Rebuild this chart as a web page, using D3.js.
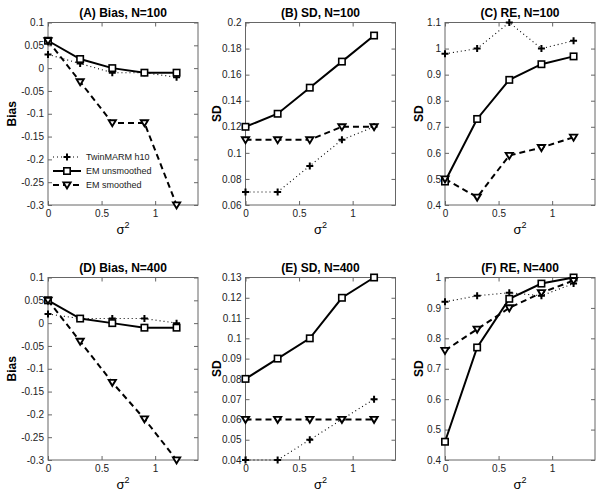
<!DOCTYPE html>
<html><head><meta charset="utf-8">
<script src="https://cdn.jsdelivr.net/npm/d3@7"></script>
<style>body{margin:0;background:#fff}svg{display:block}text{font-family:"Liberation Sans",Arial,sans-serif}</style>
</head><body><svg id="c" width="603" height="495"></svg>
<script>
const sigma2 = [0, 0.3, 0.6, 0.9, 1.2];
const xTicks = [0, 0.5, 1];
const seriesNames = ["TwinMARM h10", "EM unsmoothed", "EM smoothed"];
const titles = ["(A) Bias, N=100","(B) SD, N=100","(C) RE, N=100","(D) Bias, N=400","(E) SD, N=400","(F) RE, N=400"];
const yLabels = ["Bias","SD","SD","Bias","SD","SD"];
// values per panel: [Twin, EM unsmoothed, EM smoothed]
const biasN100 = [[0.03,0.01,-0.01,-0.01,-0.02],[0.06,0.02,0,-0.01,-0.01],[0.06,-0.03,-0.12,-0.12,-0.30]];
const sdN100   = [[0.07,0.07,0.09,0.11,0.12],[0.12,0.13,0.15,0.17,0.19],[0.11,0.11,0.11,0.12,0.12]];
const reN100   = [[0.98,1.0,1.1,1.0,1.03],[0.49,0.73,0.88,0.94,0.97],[0.50,0.43,0.59,0.62,0.66]];
const biasN400 = [[0.02,0.01,0.01,0.01,0.0],[0.05,0.01,0.0,-0.01,-0.01],[0.05,-0.04,-0.13,-0.21,-0.30]];
const sdN400   = [[0.04,0.04,0.05,0.06,0.07],[0.08,0.09,0.10,0.12,0.13],[0.06,0.06,0.06,0.06,0.06]];
const reN400   = [[0.92,0.94,0.95,0.94,0.98],[0.46,0.77,0.93,0.98,1.0],[0.76,0.83,0.90,0.95,0.99]];
const yDomains = [[-0.3,0.1],[0.06,0.2],[0.4,1.1],[-0.3,0.1],[0.04,0.13],[0.4,1.0]];
const yTicks = [
  [-0.3,-0.25,-0.2,-0.15,-0.1,-0.05,0,0.05,0.1],
  [0.06,0.08,0.1,0.12,0.14,0.16,0.18,0.2],
  [0.4,0.5,0.6,0.7,0.8,0.9,1,1.1],
  [-0.3,-0.25,-0.2,-0.15,-0.1,-0.05,0,0.05,0.1],
  [0.04,0.05,0.06,0.07,0.08,0.09,0.1,0.11,0.12,0.13],
  [0.4,0.5,0.6,0.7,0.8,0.9,1]
];
const panelData = [biasN100, sdN100, reN100, biasN400, sdN400, reN400];

const svg = d3.select("#c");
const lefts = [48, 245.5, 445], tops = [22.5, 277.5];
const ylabOffset = [36, 29, 26.5];
const W = 150, H = 182.5;
const fmt = d => String(+d.toFixed(3));
const styles = [
  {w:1.1, dash:"1,3", marker:"plus"},
  {w:2, dash:null, marker:"square"},
  {w:2, dash:"6,4", marker:"tri"}
];
function drawMarker(g, type, x, y) {
  if (type === "plus") {
    g.append("path").attr("d", `M${x-3.5},${y}H${x+3.5}M${x},${y-3.5}V${y+3.5}`)
      .attr("stroke","#000").attr("stroke-width",2).attr("fill","none");
  } else if (type === "square") {
    g.append("rect").attr("x",x-3.2).attr("y",y-3.2).attr("width",6.4).attr("height",6.4)
      .attr("fill","#fff").attr("stroke","#000").attr("stroke-width",1.6);
  } else {
    g.append("path").attr("d", `M${x-3.6},${y-2.6}L${x+3.6},${y-2.6}L${x},${y+3.4}Z`)
      .attr("fill","#fff").attr("stroke","#000").attr("stroke-width",1.9).attr("stroke-linejoin","miter");
  }
}
panelData.forEach((data, i) => {
  const col = i % 3, row = Math.floor(i / 3);
  const L = lefts[col], T = tops[row];
  const x = d3.scaleLinear().domain([0,1.4]).range([L, L+W]);
  const y = d3.scaleLinear().domain(yDomains[i]).range([T+H, T]);
  const g = svg.append("g");
  g.append("rect").attr("x",L).attr("y",T).attr("width",W).attr("height",H)
    .attr("fill","#fff").attr("stroke","#666").attr("stroke-width",1);
  const ya = g.append("g").attr("transform",`translate(${L},0)`)
    .call(d3.axisLeft(y).tickValues(yTicks[i]).tickFormat(fmt).tickSizeInner(-4).tickSizeOuter(0).tickPadding(4));
  const yr = g.append("g").attr("transform",`translate(${L+W},0)`)
    .call(d3.axisRight(y).tickValues(yTicks[i]).tickFormat("").tickSizeInner(-4).tickSizeOuter(0));
  const xa = g.append("g").attr("transform",`translate(0,${T+H})`)
    .call(d3.axisBottom(x).tickValues(xTicks).tickFormat(fmt).tickSizeInner(-4).tickSizeOuter(0).tickPadding(3));
  const xt = g.append("g").attr("transform",`translate(0,${T})`)
    .call(d3.axisTop(x).tickValues(xTicks).tickFormat("").tickSizeInner(-4).tickSizeOuter(0));
  [ya,yr,xa,xt].forEach(a => { a.select(".domain").remove(); a.selectAll("line").attr("stroke","#666");
    a.selectAll("text").attr("fill","#222").style("font-size","10px").style("font-family",'"Liberation Sans",Arial,sans-serif'); });
  xa.selectAll("text").attr("dy","0.9em");
  data.forEach((vals, s) => {
    const st = styles[s];
    const line = d3.line().x((d,k)=>x(sigma2[k])).y(d=>y(d));
    g.append("path").datum(vals).attr("d", line).attr("fill","none").attr("stroke","#000")
      .attr("stroke-width", st.w).attr("stroke-dasharray", st.dash);
  });
  data.forEach((vals, s) => {
    vals.forEach((v,k) => drawMarker(g, styles[s].marker, x(sigma2[k]), y(v)));
  });
  g.append("text").attr("x", L+W/2).attr("y", T-6).attr("text-anchor","middle")
    .style("font-weight","bold").style("font-size","12px").attr("fill","#000").text(titles[i]);
  const ylx = L - ylabOffset[col], yly = T + H/2;
  g.append("text").attr("transform",`translate(${ylx},${yly}) rotate(-90)`).attr("text-anchor","middle")
    .attr("dy","0.35em")
    .style("font-weight","bold").style("font-size","12px").attr("fill","#000").text(yLabels[i]);
  const xl = g.append("text").attr("x", L+W/2).attr("y", T+H+29).attr("text-anchor","middle")
    .style("font-size","13px").attr("fill","#000");
  xl.append("tspan").text("σ");
  xl.append("tspan").attr("dy",-6).style("font-size","9px").text("2");
  if (i === 0) {
    const ly = [157, 171, 185];
    seriesNames.forEach((nm, s) => {
      const st = styles[s];
      g.append("line").attr("x1",53).attr("x2",81).attr("y1",ly[s]).attr("y2",ly[s])
        .attr("stroke","#000").attr("stroke-width",st.w).attr("stroke-dasharray",st.dash);
      drawMarker(g, st.marker, 67, ly[s]);
      g.append("text").attr("x",86).attr("y",ly[s]).attr("dy","0.35em").style("font-size","9px")
        .attr("fill","#222").text(nm);
    });
  }
});
</script></body></html>
